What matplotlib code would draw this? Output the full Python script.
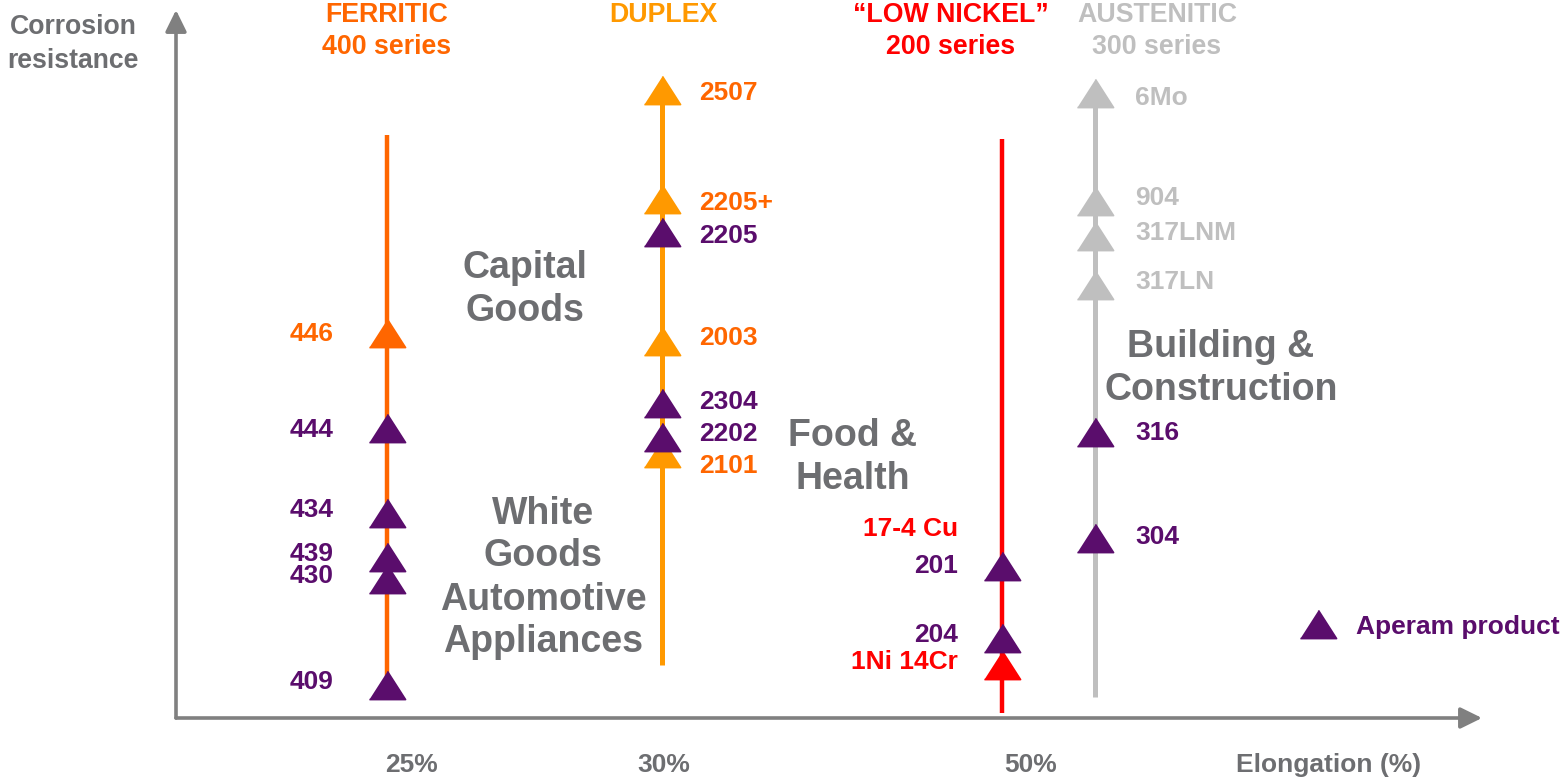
import matplotlib.pyplot as plt
from matplotlib.patches import FancyArrowPatch

plt.rcParams['font.family'] = ['Liberation Sans', 'DejaVu Sans']
plt.rcParams['font.weight'] = 'bold'

PURPLE = '#5a0d6c'
GREY_TXT = '#6d6e71'
AXIS_GREY = '#808080'

# families: position on the elongation axis and the corrosion range drawn
families = ['FERRITIC', 'DUPLEX', '“LOW NICKEL”', 'AUSTENITIC']
series_names = ['400 series', '', '200 series', '300 series']
family_elong = [387, 662, 1002, 1095]
range_top = [643, 698, 639, 685]
range_bottom = [78, 113, 65, 81]

# grades (corrosion resistance, arbitrary scale) and whether Aperam makes them
ferritic_grades = ['446', '444', '434', '439', '430', '409']
ferritic_corr = [445, 350, 265, 221, 199, 93]
ferritic_aperam = [False, True, True, True, True, True]

duplex_grades = ['2507', '2205+', '2205', '2003', '2304', '2202', '2101']
duplex_corr = [688, 579, 546, 437, 375, 341, 325]
duplex_aperam = [False, False, True, False, True, True, False]

lownickel_grades = ['17-4 Cu', '201', '204', '1Ni 14Cr']
lownickel_corr = [246, 212, 140, 113]
lownickel_aperam = [None, True, True, False]   # None = label only

austenitic_grades = ['6Mo', '904', '317LNM', '317LN', '316', '304']
austenitic_corr = [685, 577, 542, 493, 346, 240]
austenitic_aperam = [False, False, False, False, True, True]

elong_ticks = [411, 664, 1031]
elong_labels = ['25%', '30%', '50%']

segments = ['Capital\nGoods', 'White\nGoods\nAutomotive\nAppliances',
            'Food &\nHealth', 'Building &\nConstruction']

# styles
line_colors = ['#ff6600', '#ff9900', '#ff0000', '#bfbfbf']
text_colors = ['#ff6600', '#ff6600', '#ff0000', '#bfbfbf']
header_colors = ['#ff6600', '#ff9900', '#ff0000', '#bfbfbf']
line_widths = [3.2, 3.6, 3.2, 3.6]
header_x = [387, 663, 951, 1157]
label_dx = [-53, 37, -44, 40]
# small nudges so labels sit where the original has them
label_dy = {'446': -4, '444': -5, '2507': -6, '2205+': -7, '2205': -7,
            '2304': -2, '2101': -16, '201': -3, '6Mo': -8, '316': -4, '304': -2}
TRI = [(-1, -0.78), (1, -0.78), (0, 0.78)]
SMALL = 19

fig = plt.figure(figsize=(15.64, 7.78), dpi=100)
ax = fig.add_axes([0, 0, 1, 1])
ax.set_xlim(0, 1564)
ax.set_ylim(0, 778)
ax.axis('off')

# axes arrows
x0, y0 = 176, 60
for tip in [(176, 768), (1482, 60)]:
    ax.add_patch(FancyArrowPatch((x0, y0), tip, arrowstyle='-|>,head_length=0.65,head_width=0.32',
                                 mutation_scale=20, lw=2.6, color=AXIS_GREY,
                                 shrinkA=0, shrinkB=0, zorder=1))

ax.text(73, 751, 'Corrosion', ha='center', va='center', fontsize=19.2, color=GREY_TXT)
ax.text(73, 717, 'resistance', ha='center', va='center', fontsize=19.2, color=GREY_TXT)
for xt, lab in zip(elong_ticks, elong_labels):
    ax.text(xt, 13, lab, ha='center', va='center', fontsize=SMALL, color=GREY_TXT)
ax.text(1329, 13, 'Elongation (%)', ha='center', va='center', fontsize=SMALL, color=GREY_TXT)

all_grades = [
    (ferritic_grades, ferritic_corr, ferritic_aperam),
    (duplex_grades, duplex_corr, duplex_aperam),
    (lownickel_grades, lownickel_corr, lownickel_aperam),
    (austenitic_grades, austenitic_corr, austenitic_aperam),
]

for i, (grades, corr, aperam) in enumerate(all_grades):
    xf = family_elong[i]
    ax.plot([xf, xf], [range_bottom[i], range_top[i]], color=line_colors[i],
            lw=line_widths[i], solid_capstyle='butt', zorder=2)
    ax.text(header_x[i], 763, families[i], ha='center', va='center',
            fontsize=19.3, color=header_colors[i])
    if series_names[i]:
        ax.text(header_x[i], 731, series_names[i], ha='center', va='center',
                fontsize=19.3, color=header_colors[i])
    for g, c, ap in zip(grades, corr, aperam):
        if ap is not None:
            col = PURPLE if ap else line_colors[i]
            ax.plot([xf], [c], marker=TRI, markersize=26, color=col, mec=col,
                    mew=1.2, linestyle='none', zorder=3 + c / 1000)
        tcol = PURPLE if ap else text_colors[i]
        ly = c + 3 + label_dy.get(g, 0)
        ax.text(xf + label_dx[i], ly, g, ha='right' if label_dx[i] < 0 else 'left',
                va='center', fontsize=SMALL, color=tcol, zorder=5)

# market segments
seg_x = [525, 543, 853, 1221]
seg_y = [489, 200, 321, 410]
for s, sx, sy in zip(segments, seg_x, seg_y):
    ax.text(sx, sy, s, ha='center', va='center', fontsize=27, color=GREY_TXT,
            linespacing=1.25)

# legend
ax.plot([1318], [154], marker=TRI, markersize=26, color=PURPLE, mec=PURPLE,
        mew=1.2, linestyle='none')
ax.text(1356, 151, 'Aperam product', ha='left', va='center', fontsize=SMALL, color=PURPLE)

fig.savefig('out.png', dpi=100)
